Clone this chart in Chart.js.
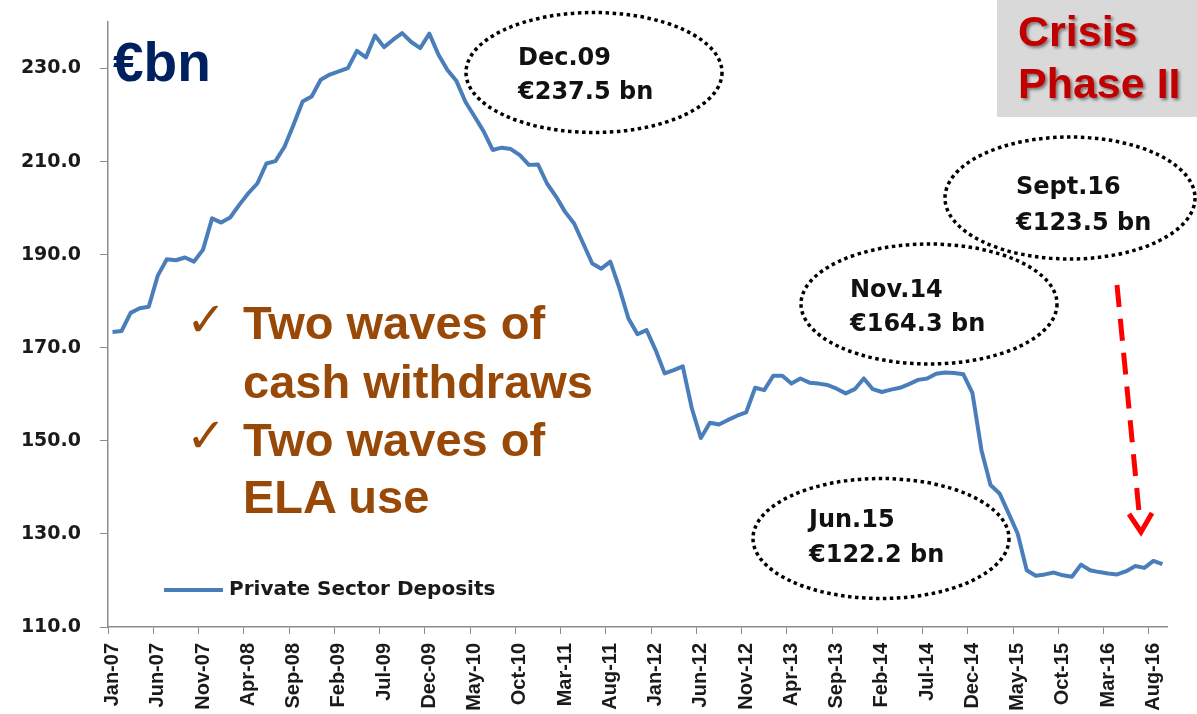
<!DOCTYPE html>
<html lang="en">
<head>
    <meta charset="UTF-8">
    <title>Private Sector Deposits</title>
    <style>
        body {
            margin: 0;
            background: #fff;
        }
        #wrap {
            position: relative;
            width: 1197px;
            height: 714px;
        }
        #overlay {
            position: absolute;
            left: 0;
            top: 0;
            pointer-events: none;
        }
        .note {
            font-family: "DejaVu Sans", sans-serif;
            font-weight: bold;
            font-size: 24px;
            fill: #111;
        }
        .waves {
            font-family: "Liberation Sans", Arial, sans-serif;
            font-weight: bold;
            font-size: 47px;
            fill: #984807;
        }
        .tick {
            font-family: "DejaVu Sans", sans-serif;
            font-size: 48px;
            fill: #984807;
        }
        .crisis {
            font-family: "Liberation Sans", Arial, sans-serif;
            font-weight: bold;
            font-size: 43px;
            fill: #c00000;
        }
        .dots {
            fill: none;
            stroke: #000;
            stroke-width: 3.5;
            stroke-dasharray: 3.5 3.5;
        }
    </style>
</head>
<body>
<div id="wrap">
    <canvas id="chart" width="1197" height="714"></canvas>
    <svg id="overlay" width="1197" height="714">
        <defs>
            <filter id="shadow" x="-10%" y="-10%" width="130%" height="140%">
                <feDropShadow dx="2" dy="2" stdDeviation="1.5" flood-color="#000" flood-opacity="0.45"/>
            </filter>
        </defs>

        <text class="waves" x="113" y="81" style="font-size:55px; fill:#002060">€bn</text>

        <rect x="997" y="0" width="200" height="117" fill="#d9d9d9"/>
        <text class="crisis" x="1018" y="46" filter="url(#shadow)">Crisis</text>
        <text class="crisis" x="1018" y="98" filter="url(#shadow)">Phase II</text>

        <ellipse class="dots" cx="594" cy="72.5" rx="128" ry="60"/>
        <text class="note" x="518" y="65">Dec.09</text>
        <text class="note" x="518" y="99">€237.5 bn</text>

        <ellipse class="dots" cx="929" cy="304" rx="128" ry="60"/>
        <text class="note" x="850" y="297">Nov.14</text>
        <text class="note" x="850" y="331">€164.3 bn</text>

        <ellipse class="dots" cx="1070" cy="198" rx="125" ry="61"/>
        <text class="note" x="1016" y="194">Sept.16</text>
        <text class="note" x="1016" y="230">€123.5 bn</text>

        <ellipse class="dots" cx="881" cy="538.5" rx="128" ry="60"/>
        <text class="note" x="809" y="527">Jun.15</text>
        <text class="note" x="809" y="562">€122.2 bn</text>

        <text class="tick" x="186" y="336">✓</text>
        <text class="waves" x="243" y="339">Two waves of</text>
        <text class="waves" x="243" y="398">cash withdraws</text>
        <text class="tick" x="186" y="452">✓</text>
        <text class="waves" x="243" y="456">Two waves of</text>
        <text class="waves" x="243" y="513">ELA use</text>

        <line x1="1117" y1="285" x2="1140" y2="522" stroke="#ff0000" stroke-width="5" stroke-dasharray="22 12"/>
        <polyline points="1129,514 1141,532 1152,513" fill="none" stroke="#ff0000" stroke-width="5"/>
    </svg>
</div>

<script src="https://cdn.jsdelivr.net/npm/chart.js"></script>
<script>
    // monthly, Jan-07 .. Sep-16 (EUR bn)
    const monthNames = ['Jan', 'Feb', 'Mar', 'Apr', 'May', 'Jun', 'Jul', 'Aug', 'Sep', 'Oct', 'Nov', 'Dec'];
    const firstYear = 2007;
    const monthCount = 117;

    const deposits = [
        173.4, 173.6, 177.5, 178.5, 178.8, 185.5, 189.0, 188.8, 189.4, 188.5, 191.1, 197.8,
        196.9, 198.0, 200.7, 203.2, 205.3, 209.6, 210.1, 213.2, 217.9, 222.9, 224.0, 227.6,
        228.7, 229.4, 230.1, 233.8, 232.4, 237.1, 234.6, 236.2, 237.6, 235.7, 234.4, 237.5,
        233.0, 229.7, 227.3, 222.8, 219.7, 216.5, 212.5, 213.0, 212.7, 211.4, 209.3, 209.4,
        205.3, 202.5, 199.2, 196.7, 192.4, 188.1, 187.0, 188.5, 182.8, 176.3, 172.9, 173.8,
        169.5, 164.5, 165.2, 166.0, 157.0, 150.6, 153.9, 153.5, 154.5, 155.4, 156.1, 161.4,
        160.9, 164.0, 164.0, 162.3, 163.4, 162.5, 162.3, 162.0, 161.2, 160.2, 161.1, 163.4,
        161.1, 160.5, 161.0, 161.4, 162.2, 163.1, 163.4, 164.4, 164.7, 164.6, 164.3, 160.3,
        148.0, 140.5, 138.7, 134.4, 130.1, 122.2, 121.0, 121.3, 121.7, 121.1, 120.8, 123.4,
        122.2, 121.8, 121.5, 121.3, 122.0, 123.1, 122.7, 124.2, 123.5
    ];

    const yTicks = [110, 130, 150, 170, 190, 210, 230];
    const labelEvery = 5;

    const months = [];
    for (let i = 0; i < monthCount; i++) {
        const yy = String((firstYear + Math.floor(i / 12)) % 100).padStart(2, '0');
        months.push(monthNames[i % 12] + '-' + yy);
    }

    const axisGrey = '#8c8c8c';
    const textDark = '#1a1a1a';

    // legend sits inside the plot, bottom left
    const innerLegend = {
        id: 'innerLegend',
        afterDraw(chart) {
            const ctx = chart.ctx;
            const area = chart.chartArea;
            const ds = chart.data.datasets[0];
            const y = area.bottom - 37;
            ctx.save();
            ctx.strokeStyle = ds.borderColor;
            ctx.lineWidth = 4;
            ctx.beginPath();
            ctx.moveTo(area.left + 56, y);
            ctx.lineTo(area.left + 115, y);
            ctx.stroke();
            ctx.fillStyle = textDark;
            ctx.font = 'bold 20px "DejaVu Sans", sans-serif';
            ctx.textBaseline = 'middle';
            ctx.fillText(ds.label, area.left + 121, y);
            ctx.restore();
        }
    };

    new Chart(document.getElementById('chart'), {
        type: 'line',
        data: {
            labels: months,
            datasets: [{
                label: 'Private Sector Deposits',
                data: deposits,
                borderColor: '#4a7ebb',
                borderWidth: 4,
                borderJoinStyle: 'round',
                pointRadius: 0,
                tension: 0,
                fill: false
            }]
        },
        options: {
            responsive: false,
            animation: false,
            devicePixelRatio: 1,
            layout: {
                padding: { top: 22, right: 30, left: 0, bottom: 0 }
            },
            plugins: {
                legend: { display: false },
                tooltip: { enabled: false }
            },
            scales: {
                x: {
                    offset: true,
                    afterFit: s => { s.height = 87; },
                    border: { display: true, color: axisGrey, width: 1.5 },
                    grid: {
                        offset: true,
                        drawOnChartArea: false,
                        tickLength: 7,
                        color: ctx => (ctx.index !== undefined && ctx.index % labelEvery === 0) ? axisGrey : 'rgba(0,0,0,0)'
                    },
                    ticks: {
                        autoSkip: false,
                        minRotation: 90,
                        maxRotation: 90,
                        padding: 9,
                        color: textDark,
                        font: { family: '"Liberation Sans", Arial, sans-serif', weight: 'bold', size: 20 },
                        callback: (v, i) => i % labelEvery === 0 ? months[i] : ''
                    }
                },
                y: {
                    min: 110,
                    max: 240,
                    afterFit: s => {
                        s.width = 108;
                        s.paddingTop = 0;
                        s.paddingBottom = 0;
                    },
                    afterBuildTicks: s => { s.ticks = yTicks.map(v => ({ value: v })); },
                    border: { display: true, color: axisGrey, width: 1.5 },
                    grid: {
                        drawOnChartArea: false,
                        tickLength: 8,
                        color: axisGrey
                    },
                    ticks: {
                        padding: 19,
                        color: textDark,
                        font: { family: '"DejaVu Sans", sans-serif', weight: 'bold', size: 19 },
                        callback: v => v.toFixed(1)
                    }
                }
            }
        },
        plugins: [innerLegend]
    });
</script>
</body>
</html>
